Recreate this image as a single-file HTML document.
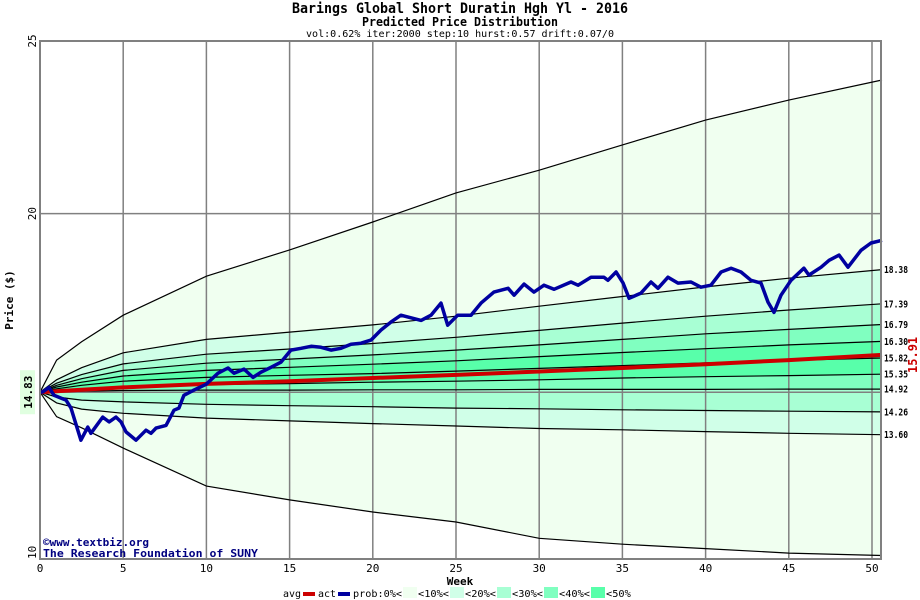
<!DOCTYPE html>
<html><head><meta charset="utf-8"><style>
body{margin:0;background:#fff;width:920px;height:600px;overflow:hidden}
svg{display:block}
text{font-family:"DejaVu Sans Mono","Liberation Mono",monospace}
</style></head><body>
<svg id="chart" width="920" height="600" viewBox="0 0 920 600" xmlns="http://www.w3.org/2000/svg">
<text x="460" y="13" text-anchor="middle" font-size="14" font-weight="bold" textLength="336" lengthAdjust="spacingAndGlyphs">Barings Global Short Duratin Hgh Yl - 2016</text>
<text x="460" y="26" text-anchor="middle" font-size="12" font-weight="bold" textLength="196" lengthAdjust="spacingAndGlyphs">Predicted Price Distribution</text>
<text x="460" y="37" text-anchor="middle" font-size="10" textLength="308" lengthAdjust="spacingAndGlyphs">vol:0.62% iter:2000 step:10 hurst:0.57 drift:0.07/0</text>
<g id="bands"></g>
<g id="grid"></g>
<g id="qlines"></g>
<g id="series"></g>
<rect x="40" y="41" width="841" height="518" fill="none" stroke="#808080" stroke-width="2"/>
<g id="axes"></g>
<text transform="translate(13,300) rotate(-90)" text-anchor="middle" font-size="11" font-weight="bold">Price ($)</text>
<text x="460" y="585" text-anchor="middle" font-size="11" font-weight="bold">Week</text>
<text x="43" y="546" font-size="11" font-weight="bold" fill="#000080">©www.textbiz.org</text>
<text x="43" y="557" font-size="11" font-weight="bold" fill="#000080" textLength="215" lengthAdjust="spacingAndGlyphs">The Research Foundation of SUNY</text>
<g id="legend"></g>
</svg>
<script>
const weeks=[0,1,2.5,5,10,15,20,25,30,35,40,45,50.6];
const qTop=[14.83,15.76,16.29,17.06,18.19,18.95,19.76,20.6,21.26,21.99,22.71,23.29,23.87];
const q1=[14.83,15.19,15.54,15.97,16.36,16.57,16.78,17.03,17.32,17.6,17.88,18.13,18.38];
const q2=[14.83,15.09,15.34,15.65,15.93,16.08,16.24,16.42,16.62,16.83,17.03,17.21,17.39];
const q3=[14.83,15.03,15.22,15.46,15.67,15.79,15.91,16.05,16.2,16.36,16.52,16.65,16.79];
const q4=[14.83,14.98,15.12,15.30,15.46,15.55,15.64,15.74,15.86,15.98,16.09,16.20,16.30];
const q5=[14.83,14.93,15.03,15.15,15.26,15.32,15.37,15.44,15.52,15.60,15.68,15.75,15.82];
const q6=[14.83,14.88,14.93,14.99,15.05,15.08,15.12,15.15,15.19,15.24,15.28,15.31,15.35];
const q7=[14.83,14.85,14.86,14.88,14.89,14.89,14.90,14.90,14.91,14.91,14.91,14.92,14.92];
const q8=[14.83,14.69,14.6,14.55,14.48,14.44,14.41,14.37,14.35,14.32,14.3,14.28,14.26];
const q9=[14.83,14.52,14.34,14.22,14.08,14.0,13.92,13.85,13.78,13.74,13.69,13.64,13.60];
const qBot=[14.83,14.12,13.8,13.21,12.11,11.71,11.36,11.07,10.6,10.43,10.3,10.17,10.1];
const avgVals=[14.83,14.86,14.9,14.97,15.07,15.15,15.24,15.33,15.43,15.53,15.64,15.76,15.91];
const actWeeks=[0,.16,.54,.84,1.26,1.56,1.86,2.46,2.87,3.06,3.77,4.15,4.57,4.87,5.17,5.77,6.37,6.67,6.97,7.57,8.05,8.35,8.65,9.25,9.98,10.7,11.3,11.66,12.26,12.8,13.28,13.88,14.48,15.08,15.69,16.29,16.89,17.49,18.09,18.69,19.29,19.89,20.49,21.09,21.69,22.9,23.5,24.1,24.5,25.1,25.9,26.5,27.28,28.13,28.49,29.09,29.69,30.29,30.89,31.91,32.33,33.11,33.89,34.13,34.62,35.04,35.4,36.12,36.72,37.14,37.74,38.34,39.12,39.72,40.32,40.93,41.53,42.13,42.73,43.33,43.75,44.11,44.53,45.13,45.91,46.21,46.94,47.42,48.02,48.56,49.34,49.94,50.6];
const actVals=[14.83,14.84,14.97,14.74,14.66,14.6,14.37,13.44,13.82,13.64,14.11,13.97,14.11,13.97,13.68,13.44,13.73,13.64,13.79,13.87,14.31,14.37,14.74,14.89,15.06,15.38,15.53,15.38,15.5,15.26,15.41,15.55,15.7,16.05,16.1,16.16,16.13,16.05,16.1,16.22,16.25,16.34,16.63,16.86,17.06,16.91,17.06,17.41,16.77,17.06,17.06,17.41,17.73,17.84,17.64,17.96,17.73,17.93,17.81,18.02,17.93,18.16,18.16,18.07,18.31,17.99,17.55,17.7,18.02,17.84,18.16,17.99,18.02,17.87,17.93,18.31,18.42,18.31,18.07,17.99,17.44,17.14,17.64,18.07,18.42,18.22,18.45,18.65,18.8,18.45,18.94,19.15,19.23];
const xTicks=[0,5,10,15,20,25,30,35,40,45,50];
const yTicks=[25,20,10];
const startPrice=14.83, avgEnd=15.91;
const rightLabels=["18.38","17.39","16.79","16.30","15.82","15.35","14.92","14.26","13.60"];
const legendLabels=["<10%<","<20%<","<30%<","<40%<","<50%"];

const NS="http://www.w3.org/2000/svg";
const X0=40,X1=881,Y0=41,Y1=559;
const xs=w=>X0+w*16.64;
const ys=v=>Y0+(25-v)*(Y1-Y0)/15;
function mk(tag,attrs,parent){const e=document.createElementNS(NS,tag);for(const k in attrs)e.setAttribute(k,attrs[k]);parent.appendChild(e);return e;}
const pts=(ws,vs)=>ws.map((w,i)=>xs(w).toFixed(1)+","+ys(vs[i]).toFixed(1));
const lines=[qTop,q1,q2,q3,q4,q5,q6,q7,q8,q9,qBot];
const bandColors=["#f0fff0","#d0ffe8","#a8ffd4","#80ffc0","#58ffaa","#58ffaa","#80ffc0","#a8ffd4","#d0ffe8","#f0fff0"];
const gB=document.getElementById('bands');
for(let i=0;i<10;i++){
  const up=pts(weeks,lines[i]),lo=pts(weeks,lines[i+1]).reverse();
  const p=mk('polygon',{points:up.concat(lo).join(' '),fill:bandColors[i]},gB);
  
  
}
const gG=document.getElementById('grid');
xTicks.forEach(t=>{const l=mk('line',{x1:xs(t),x2:xs(t),y1:Y0,y2:Y1,stroke:'#808080','stroke-width':1.5},gG);
  
  });
[20,startPrice].forEach(v=>{const l=mk('line',{x1:X0,x2:X1,y1:ys(v),y2:ys(v),stroke:'#808080','stroke-width':1.5},gG);
  
  });
const gQ=document.getElementById('qlines');
lines.forEach((ln,i)=>{const p=mk('polyline',{points:pts(weeks,ln).join(' '),fill:'none',stroke:'#000','stroke-width':1.2},gQ);
  
  });
const gS=document.getElementById('series');
const av=mk('polyline',{points:pts(weeks,avgVals).join(' '),fill:'none',stroke:'#cc0000','stroke-width':4},gS);


const ac=mk('polyline',{points:pts(actWeeks,actVals).join(' '),fill:'none',stroke:'#0000a0','stroke-width':3.5,'stroke-linejoin':'round'},gS);


const gA=document.getElementById('axes');
xTicks.forEach(t=>{const e=mk('text',{x:xs(t),y:572,'text-anchor':'middle','font-size':11},gA);e.textContent=t;
  
  });
yTicks.forEach(v=>{const y=ys(v);const e=mk('text',{transform:`translate(36,${y}) rotate(-90)`,'text-anchor':v==10?'start':'middle','font-size':11},gA);e.textContent=v;
  
  });
const sb=mk('rect',{x:20,y:ys(startPrice)-22,width:15,height:44,fill:'#e0ffe0'},gA);


const st=mk('text',{transform:`translate(32,${ys(startPrice)}) rotate(-90)`,'text-anchor':'middle','font-size':11,'font-weight':'bold'},gA);st.textContent=startPrice.toFixed(2);


rightLabels.forEach(s=>{const e=mk('text',{x:884,y:ys(parseFloat(s))+3.5,'font-size':9.5,'font-weight':'bold',textLength:24,lengthAdjust:'spacingAndGlyphs'},gA);e.textContent=s;
  
  });
const ae=mk('text',{transform:`translate(917,${ys(avgEnd)}) rotate(-90)`,'text-anchor':'middle','font-size':12,'font-weight':'bold',fill:'#cc0000'},gA);ae.textContent=avgEnd.toFixed(2);


const gL=document.getElementById('legend');
function ltext(s,x,len){const e=mk('text',{x:x,y:597,'font-size':10,textLength:len,lengthAdjust:'spacingAndGlyphs'},gL);e.textContent=s;
  
  return e;}
ltext('avg',283,18);
let r=mk('rect',{x:303,y:592,width:12,height:4,fill:'#cc0000'},gL);


ltext('act',318,18);
r=mk('rect',{x:338,y:592,width:12,height:4,fill:'#0000a0'},gL);


ltext('prob:0%<',353,49);
const legColors=["#f0fff0","#d0ffe8","#a8ffd4","#80ffc0","#58ffaa"];
let px=403;
legendLabels.forEach((s,i)=>{
  const sw=mk('rect',{x:px,y:587,width:14,height:11,fill:legColors[i]},gL);
  
  
  px+=15;
  ltext(s,px,s.length*6.2);px+=32;});
</script>
</body></html>
